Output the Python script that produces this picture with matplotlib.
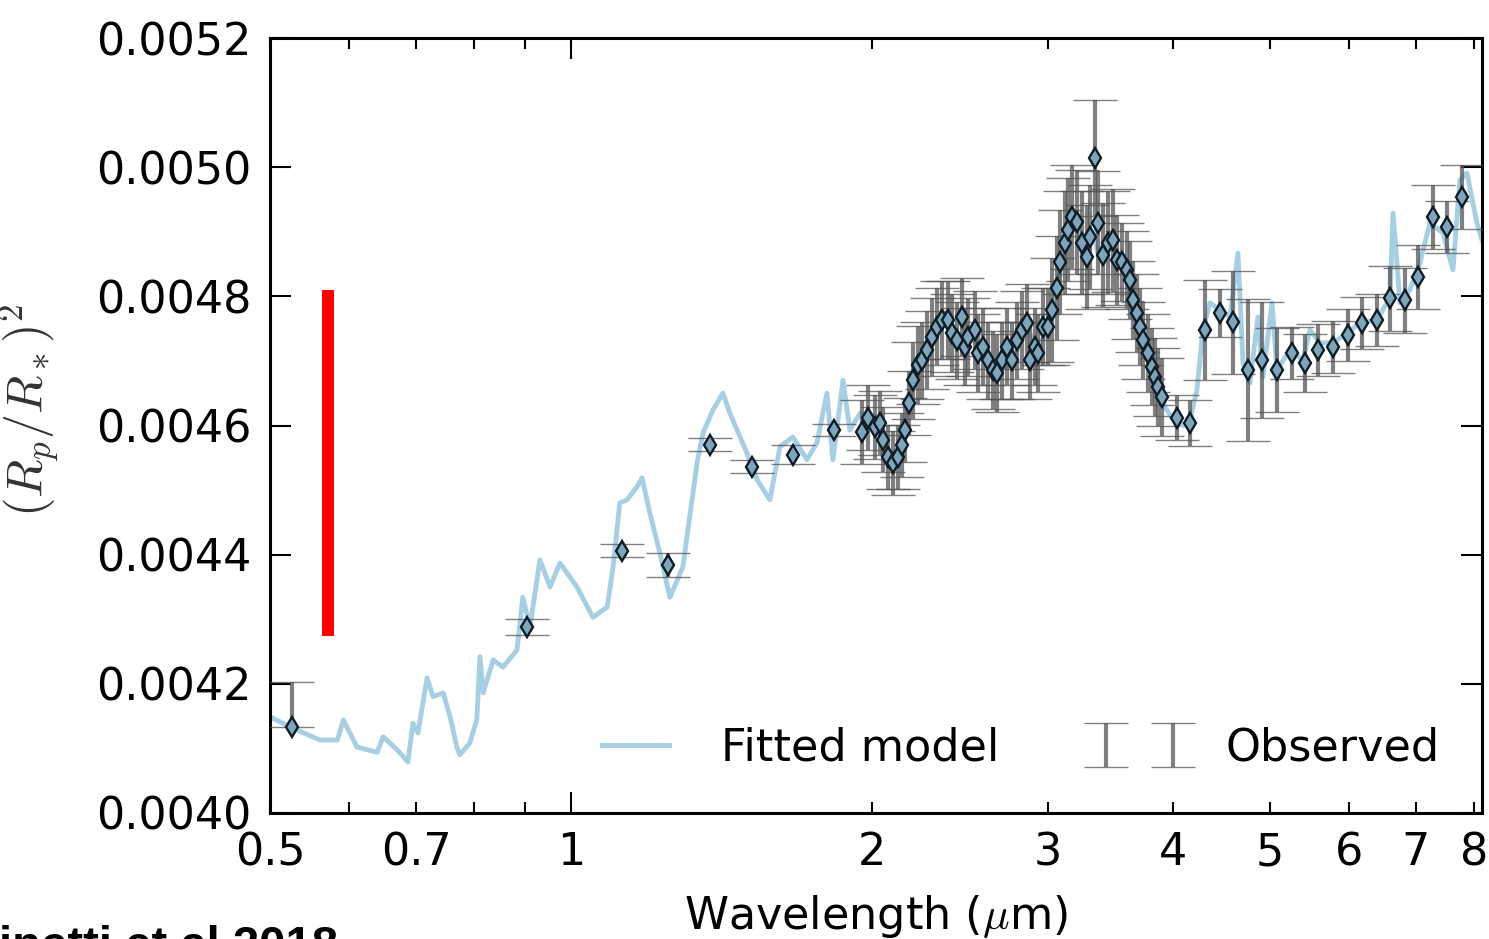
import matplotlib
matplotlib.use("Agg")
import matplotlib.pyplot as plt

plt.rcParams['mathtext.fontset'] = 'cm'
plt.rcParams['font.family'] = ['DejaVu Sans']

# fitted model spectrum (wavelength in micron, transit depth)
model_wl = [0.500, 0.524, 0.561, 0.584, 0.592, 0.611, 0.640, 0.649, 0.670, 0.687,
            0.695, 0.703, 0.718, 0.728, 0.745, 0.757, 0.769, 0.774, 0.792, 0.805,
            0.811, 0.817, 0.836, 0.855, 0.883, 0.895, 0.910, 0.931, 0.953, 0.975,
            1.014, 1.052, 1.087, 1.102, 1.119, 1.138, 1.164, 1.178, 1.199, 1.227,
            1.256, 1.294, 1.337, 1.355, 1.387, 1.419, 1.442, 1.500, 1.535, 1.581,
            1.618, 1.667, 1.722, 1.762, 1.803, 1.828, 1.871, 1.901, 1.946, 1.982,
            2.050, 2.100, 2.160, 2.200, 2.270, 2.350, 2.430, 2.500, 2.600, 2.670,
            2.760, 2.860, 2.930, 3.000, 3.060, 3.140, 3.200, 3.280, 3.330, 3.360,
            3.420, 3.500, 3.560, 3.620, 3.700, 3.780, 3.860, 3.920, 4.000, 4.100,
            4.160, 4.227, 4.286, 4.356, 4.457, 4.561, 4.646, 4.700, 4.776, 4.865,
            4.921, 5.025, 5.083, 5.236, 5.396, 5.483, 5.611, 5.783, 5.972, 6.153,
            6.399, 6.594, 6.640, 6.748, 6.904, 7.065, 7.229, 7.449, 7.622, 7.746,
            7.872, 8.055, 8.150]
model_depth = [0.004149, 0.004133, 0.004113, 0.004113, 0.004144, 0.004102, 0.004094, 0.004118, 0.004098, 0.004079,
               0.004139, 0.004124, 0.004209, 0.004180, 0.004186, 0.004149, 0.004102, 0.004090, 0.004108, 0.004144,
               0.004242, 0.004186, 0.004237, 0.004226, 0.004252, 0.004334, 0.004288, 0.004392, 0.004350, 0.004387,
               0.004350, 0.004303, 0.004319, 0.004381, 0.004480, 0.004485, 0.004505, 0.004519, 0.004465, 0.004403,
               0.004334, 0.004381, 0.004542, 0.004588, 0.004624, 0.004650, 0.004619, 0.004557, 0.004516, 0.004485,
               0.004567, 0.004582, 0.004547, 0.004573, 0.004650, 0.004547, 0.004670, 0.004593, 0.004619, 0.004610,
               0.004580, 0.004550, 0.004600, 0.004670, 0.004720, 0.004760, 0.004740, 0.004740, 0.004710, 0.004680,
               0.004700, 0.004750, 0.004720, 0.004750, 0.004810, 0.004900, 0.004920, 0.004860, 0.004900, 0.004870,
               0.004880, 0.004870, 0.004850, 0.004820, 0.004760, 0.004700, 0.004660, 0.004630, 0.004610, 0.004600,
               0.004609, 0.004655, 0.004748, 0.004790, 0.004779, 0.004768, 0.004867, 0.004697, 0.004666, 0.004768,
               0.004675, 0.004790, 0.004686, 0.004717, 0.004701, 0.004748, 0.004728, 0.004728, 0.004743, 0.004759,
               0.004763, 0.004799, 0.004929, 0.004790, 0.004810, 0.004852, 0.004914, 0.004898, 0.004841, 0.004980,
               0.004991, 0.004914, 0.004887]

# observed spectrum
obs_wl = [0.526, 0.904, 1.125, 1.250, 1.377, 1.517, 1.667, 1.833,
          1.954, 1.982, 2.014, 2.037, 2.052, 2.075, 2.100, 2.124, 2.143, 2.158,
          2.178, 2.198, 2.224, 2.244, 2.270, 2.296, 2.323, 2.350, 2.383, 2.405,
          2.433, 2.461, 2.478, 2.495, 2.536, 2.553, 2.583, 2.613, 2.643, 2.667,
          2.698, 2.729, 2.761, 2.793, 2.825, 2.858, 2.878, 2.911, 2.931, 2.965,
          2.999, 3.027, 3.062, 3.084, 3.119, 3.141, 3.170, 3.207, 3.244, 3.281,
          3.304, 3.342, 3.365, 3.404, 3.444, 3.484, 3.516, 3.557, 3.598, 3.623,
          3.648, 3.682, 3.707, 3.733, 3.776, 3.811, 3.837, 3.864, 3.900, 4.037,
          4.160,
          4.306, 4.457, 4.592, 4.754, 4.910, 5.083, 5.261, 5.421, 5.586, 5.783,
          5.986, 6.182, 6.399, 6.594, 6.826, 7.033, 7.280, 7.518, 7.783]
obs_depth = [0.004133, 0.004288, 0.004406, 0.004384, 0.004570, 0.004536, 0.004555, 0.004593,
             0.004590, 0.004612, 0.004598, 0.004604, 0.004578, 0.004551, 0.004542, 0.004551, 0.004570, 0.004593,
             0.004635, 0.004670, 0.004694, 0.004701, 0.004717, 0.004737, 0.004753, 0.004763, 0.004763, 0.004743,
             0.004732, 0.004768, 0.004722, 0.004737, 0.004748, 0.004712, 0.004722, 0.004701, 0.004686, 0.004681,
             0.004701, 0.004722, 0.004701, 0.004732, 0.004748, 0.004759, 0.004701, 0.004722, 0.004712, 0.004753,
             0.004753, 0.004779, 0.004813, 0.004853, 0.004883, 0.004903, 0.004923, 0.004915, 0.004883, 0.004861,
             0.004892, 0.005014, 0.004914, 0.004864, 0.004883, 0.004887, 0.004856, 0.004853, 0.004841, 0.004825,
             0.004794, 0.004774, 0.004753, 0.004732, 0.004712, 0.004691, 0.004675, 0.004660, 0.004644, 0.004612,
             0.004604,
             0.004748, 0.004774, 0.004760, 0.004686, 0.004701, 0.004686, 0.004712, 0.004697, 0.004717, 0.004722,
             0.004740, 0.004759, 0.004763, 0.004797, 0.004794, 0.004830, 0.004923, 0.004907, 0.004954]
obs_err_lo = [0.000000, 0.000012, 0.000010, 0.000018, 0.000010, 0.000010, 0.000015, 0.000010,
              0.00005, 0.00005, 0.00005, 0.00005, 0.00005, 0.00005, 0.00005, 0.00005, 0.00005, 0.00005,
              0.00005, 0.00006, 0.00006, 0.00006, 0.00006, 0.00006, 0.00006, 0.00006, 0.00006, 0.00006,
              0.00006, 0.00006, 0.00006, 0.00006, 0.00006, 0.00006, 0.00006, 0.00006, 0.00006, 0.00006,
              0.00006, 0.00006, 0.00006, 0.00006, 0.00006, 0.00006, 0.00006, 0.00006, 0.00006, 0.00006,
              0.00006, 0.00008, 0.00008, 0.00008, 0.00008, 0.00008, 0.00008, 0.00008, 0.00008, 0.00008,
              0.00008, 0.00009, 0.00008, 0.00008, 0.00008, 0.00008, 0.00007, 0.00006, 0.00006, 0.00006,
              0.00006, 0.00006, 0.00006, 0.00006, 0.00006, 0.00006, 0.00006, 0.00006, 0.00006, 0.000035,
              0.000035,
              0.000077, 0.000037, 0.00008, 0.00011, 0.00009, 0.000065, 0.00004, 0.000045, 0.00004, 0.00004,
              0.00004, 0.00004, 0.00004, 0.00005, 0.00005, 0.00005, 0.00005, 0.00004, 0.00005]
obs_err_hi = [0.000070] + obs_err_lo[1:]

# red marker bar drawn over the plot (wavelength, depth range)
red_bar_wl = 0.5715
red_bar_depth = [0.004274, 0.004810]

minor_ticks = [0.5, 0.6, 0.7, 0.8, 0.9, 2, 3, 4, 5, 6, 7, 8]
minor_labels = ['0.5', '', '0.7', '', '', '2', '3', '4', '5', '6', '7', '8']
y_ticks = [0.0040, 0.0042, 0.0044, 0.0046, 0.0048, 0.0050, 0.0052]

fig = plt.figure(figsize=(14.89, 9.39), dpi=100)
ax = fig.add_axes([0.1813, 0.1342, 0.8140, 0.8253])

ax.plot(model_wl, model_depth, color='#9ecae1', lw=3.5, alpha=0.9,
        label='Fitted model', zorder=2)
ax.errorbar(obs_wl, obs_depth, yerr=[obs_err_lo, obs_err_hi], fmt='none',
            ecolor='#555555', elinewidth=3, capsize=16, capthick=1,
            alpha=0.75, label='Observed', zorder=3)
ax.plot(obs_wl, obs_depth, 'd', ms=10, mfc='#7fa5ba', mec='#0e1c28', mew=1.7,
        zorder=4)
ax.plot([red_bar_wl, red_bar_wl], red_bar_depth, color='red', lw=8.6,
        solid_capstyle='butt', zorder=5)

ax.set_xscale('log')
ax.set_xlim(0.5, 8.15)
ax.set_ylim(0.0040, 0.0052)
ax.set_xticks([1], ['1'])
ax.set_xticks(minor_ticks, minor_labels, minor=True)
ax.set_yticks(y_ticks, ['%.4f' % v for v in y_ticks])

ax.tick_params(which='both', direction='in', top=True, right=True,
               labelsize=32, pad=13, width=1.5)
ax.tick_params(which='major', length=15)
ax.tick_params(which='minor', length=8)
for s in ax.spines.values():
    s.set_linewidth(2.2)

ax.set_xlabel(r'Wavelength ($\mu$m)', fontsize=32, labelpad=14)
ax.set_ylabel(r'$(R_p/R_*)^2$', fontsize=36, color='#333333')
ax.yaxis.set_label_coords(-0.172, 0.52)

ax.legend(loc='center right', bbox_to_anchor=(0.965, 0.084), ncol=2,
          frameon=False, fontsize=32, numpoints=2, handlelength=2.1,
          handletextpad=0.88, columnspacing=2.1, borderpad=0, borderaxespad=0)

fig.text(-0.0195, -0.0213, 'Tinetti et al 2018', fontsize=34,
         fontweight='bold', family='Liberation Sans', va='baseline', ha='left')

fig.savefig('out.png', dpi=100)
